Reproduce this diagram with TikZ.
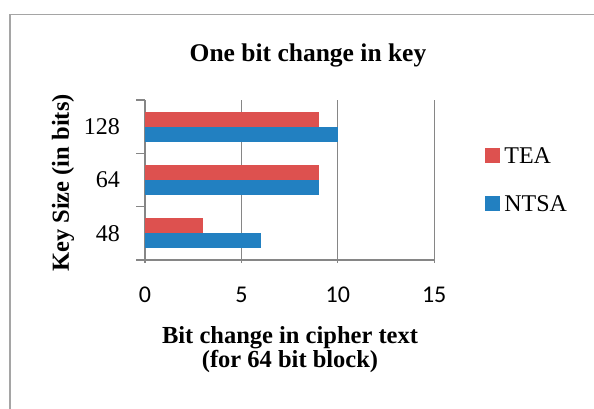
\documentclass[tikz,border=0pt]{standalone}
\usepackage{fontspec}
\setmainfont{Liberation Serif}
\newfontfamily\numfont{Carlito}
\usetikzlibrary{positioning}

\definecolor{teared}{RGB}{221,81,79}
\definecolor{ntsablue}{RGB}{34,128,193}
\definecolor{gridgray}{RGB}{134,134,134}
\definecolor{framegray}{RGB}{165,165,165}

\tikzstyle{gridline} = [gridgray, line width=1.3pt]
\tikzstyle{teabar} = [fill=teared, draw=none]
\tikzstyle{ntsabar} = [fill=ntsablue, draw=none]
\tikzstyle{axistitle} = [font=\fontsize{24.5}{24}\selectfont\bfseries,
                      align=center, inner sep=0pt]
\tikzstyle{catlabel} = [font=\fontsize{24}{26}\selectfont,
                      anchor=east, inner sep=0pt]
\tikzstyle{valuelabel} = [font=\numfont\fontsize{24}{26}\selectfont,
                      inner sep=0pt]
\tikzstyle{legendkey} = [rectangle, minimum width=15pt, minimum height=15pt,
                      inner sep=0pt, draw=none]

\begin{document}
\begin{tikzpicture}[x=1pt, y=-1pt]

  \useasboundingbox (0,0) rectangle (594,408);
  \draw[framegray, line width=1.5pt] (10,410) -- (10,14.5) -- (596,14.5);

  \node (title) [axistitle, font=\fontsize{25.5}{26}\selectfont\bfseries,
    anchor=base] at (308,61) {One bit change in key};

  % grid and axes
  \foreach \v in {5,10,15}
    \draw[gridline] (145+19.28*\v,100) -- (145+19.28*\v,263);
  \draw[gridline] (145,100) -- (145,263);
  \draw[gridline] (136,260) -- (434.2,260);
  \foreach \y in {100,153.33,206.67}
    \draw[gridline] (136,\y) -- (145,\y);

  % bars: position, key size, TEA, NTSA
  \foreach \i/\k/\tea/\ntsa in {0/48/3/6, 1/64/9/9, 2/128/9/10} {
    \pgfmathsetmacro{\cy}{260-(\i+0.5)*53.33}
    \fill[teabar] (145,\cy-15) rectangle (145+19.28*\tea,\cy);
    \fill[ntsabar] (145,\cy) rectangle (145+19.28*\ntsa,\cy+15);
    \node (key-\k) [catlabel] at (120,\cy) {\k};
  }

  \foreach \v in {0,5,10,15}
    \node (tick-\v) [valuelabel] at (145+19.28*\v,295) {\v};

  \node (ylabel) [axistitle, rotate=90] at (63,183) {Key Size (in bits)};

  \node (xlabel) [axistitle, anchor=base] at (290,343) {Bit change in cipher text};
  \node (xlabel-sub) [axistitle, anchor=base] at (290,367) {(for 64 bit block)};

  % legend
  \node (tea-key) [legendkey, fill=teared] at (492.5,155.5) {};
  \node (tea) [catlabel, anchor=west, right=4pt of tea-key] {TEA};
  \node (ntsa-key) [legendkey, fill=ntsablue] at (492.5,203.5) {};
  \node (ntsa) [catlabel, anchor=west, right=4pt of ntsa-key] {NTSA};

\end{tikzpicture}
\end{document}
